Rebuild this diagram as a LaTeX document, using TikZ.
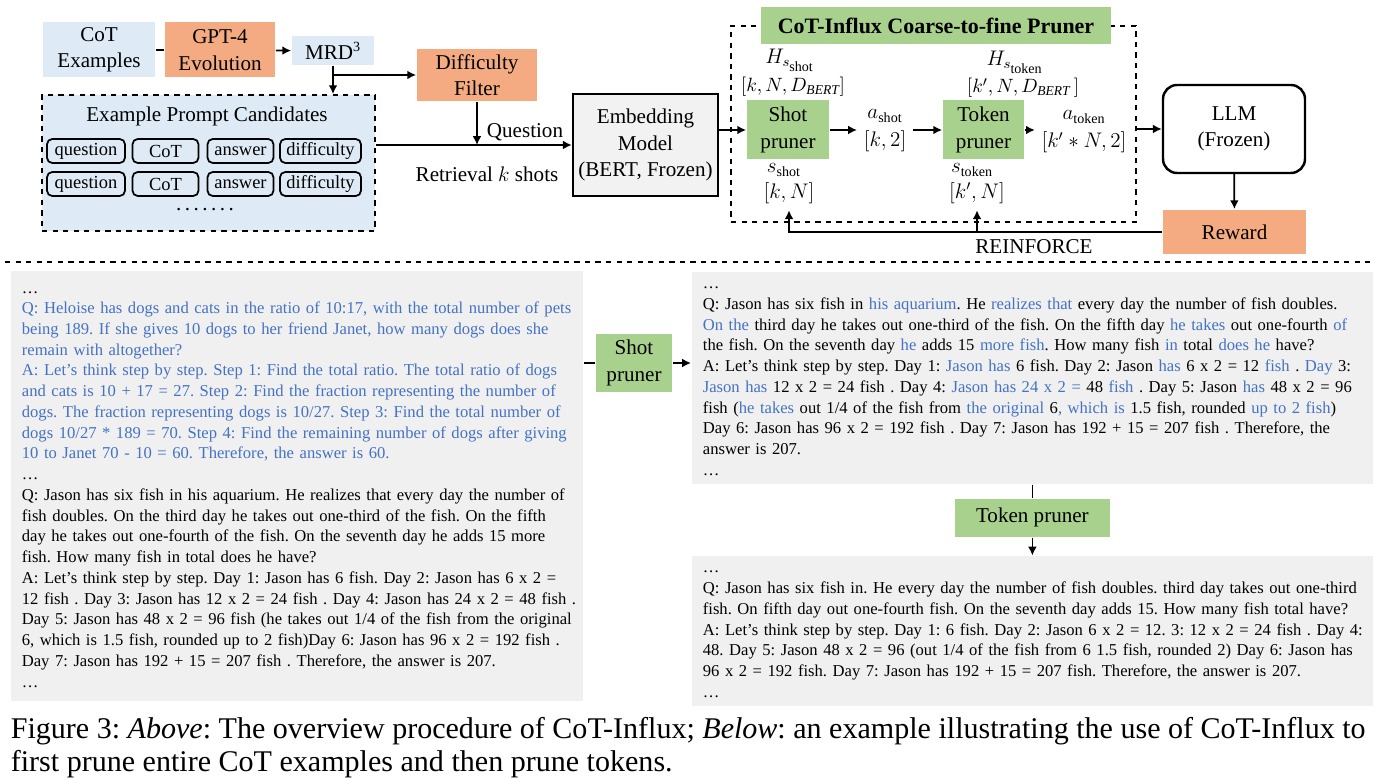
\documentclass[tikz,border=0pt]{standalone}
\usepackage{fontspec}
\setmainfont{Liberation Serif}
\usetikzlibrary{positioning,arrows.meta}
\definecolor{cotblue}{RGB}{222,235,247}
\definecolor{gptorange}{RGB}{244,171,130}
\definecolor{prunegreen}{RGB}{169,209,142}
\definecolor{boxgray}{RGB}{240,240,240}
\definecolor{embgray}{RGB}{242,242,242}
\definecolor{keepblue}{RGB}{68,114,196}
\newcommand{\kb}[1]{\textcolor{keepblue}{#1}}
\frenchspacing
\begin{document}
\begin{tikzpicture}[x=0.2mm,y=-0.2mm,>={Latex[length=5pt,width=5pt]},line width=1pt,
	font=\fontsize{12}{15}\selectfont,
	flat/.style={inner sep=0pt,align=center},
	bluebox/.style={flat,fill=cotblue},
	orangebox/.style={flat,fill=gptorange},
	greenbox/.style={flat,fill=prunegreen},
	field/.style={draw,rounded corners=3pt,minimum height=0.48cm,inner sep=0pt,font=\fontsize{10.5}{12}\selectfont},
	textbox/.style={fill=boxgray,anchor=north west,inner xsep=0.22cm,inner ysep=0.04cm,font=\fontsize{9.45}{11.8}\selectfont}]
		\useasboundingbox (0,0) rectangle (1386,778);
		\node[bluebox,minimum width=2.24cm,minimum height=1.1cm] (cot) at (99,50) {CoT\\Examples};
		\node[orangebox,minimum width=2.2cm,minimum height=1.1cm] (gpt) at (220,50) {GPT-4\\Evolution};
		\node[bluebox,minimum width=1.64cm,minimum height=0.58cm] (mrd) at (333,51) {MRD\textsuperscript{3}};
		\node[orangebox,minimum width=2.4cm,minimum height=1.04cm] (filter) at (477,75) {Difficulty\\Filter};
		\node[draw,dashed,fill=cotblue,minimum width=6.66cm,minimum height=2.72cm] (cand) at (208.5,163) {};
		\node (candtitle) at (207,116) {Example Prompt Candidates};
		\foreach \y [count=\r] in {151,184}
			\foreach \f/\x/\w in {question/86/1.56,CoT/165.5/1.32,answer/240.5/1.32,difficulty/320.5/1.62}
				\node[field,minimum width=\w cm] (\f\r) at (\x,\y) {\f};
		\node (canddots) at (205,210) {.\,.\,.\,.\,.\,.\,.};
		\node[draw,line width=1.4pt,fill=embgray,minimum width=2.9cm,minimum height=2.04cm,flat] (emb) at (645.5,145) {Embedding\\Model\\(BERT, Frozen)};
		\draw (cot) -- (gpt);
		\draw[->] (gpt) -- (mrd);
		\draw[->] (mrd) -- (mrd |- cand.north);
		\draw[->] (mrd.south |- filter) -- (filter);
		\draw[->] (cand.east |- emb) -- (emb);
		\draw[->] (filter) -- (filter |- emb);
		\node (question) at (525,132) {Question};
		\node (retrieval) at (487,174) {Retrieval $k$ shots};
		\node[draw,dashed,minimum width=8.1cm,minimum height=3.92cm] (pruner) at (933.5,124) {};
		\node[greenbox,minimum width=7cm,minimum height=0.74cm,font=\fontsize{12.5}{15}\selectfont\bfseries] (header) at (936,25.5) {CoT-Influx Coarse-to-fine Pruner};
		\node[greenbox,minimum width=1.64cm,minimum height=1.18cm] (shot) at (788,130) {Shot\\pruner};
		\node[greenbox,minimum width=1.62cm,minimum height=1.18cm] (token) at (983.5,130) {Token\\pruner};
		\node (hshot) at (790,60) {$H_{s_{\scriptstyle\mathrm{shot}}}$};
		\node[font=\fontsize{11}{13}\selectfont] (hshotdim) at (793,87) {$[k,N,D_{\mathit{BERT}}]$};
		\node (sshot) at (784,170) {$s_{\mathrm{shot}}$};
		\node (sshotdim) at (789,193) {$[k,N]$};
		\node[align=center] (ashot) at (885,131) {$a_\mathrm{shot}$\\[1pt]$[k,2]$};
		\node (htoken) at (1015,62) {$H_{s_{\scriptstyle\mathrm{token}}}$};
		\node[font=\fontsize{11}{13}\selectfont] (htokendim) at (1023,88) {$[k',N,D_{\mathit{BERT}}\,]$};
		\node (stoken) at (972,170) {$s_\mathrm{token}$};
		\node (stokendim) at (977,193) {$[k',N]$};
		\node[align=center] (atoken) at (1084,132) {$a_\mathrm{token}$\\[1pt]$[k'*N,2]$};
		\node[draw,line width=1.4pt,rounded corners=8pt,fill=white,minimum width=2.84cm,minimum height=1.76cm,flat] (llm) at (1234,129) {LLM\\(Frozen)};
		\node[orangebox,minimum width=2.86cm,minimum height=0.88cm] (reward) at (1234.5,232) {Reward};
		\draw[->] (emb.east |- shot) -- (shot);
		\draw[->] (shot) -- (shot -| ashot.west);
		\draw[->] (ashot.east |- token) -- (token);
		\draw[->] (token) -- (token -| atoken.west);
		\draw[->] (pruner.east |- llm) -- (llm);
		\draw[->] (llm) -- (reward);
		\draw[->] (reward) -- (reward -| sshotdim) -- (sshotdim);
		\draw[->] (reward -| stokendim) -- (stokendim);
		\node (reinforce) at (1034,247) {REINFORCE};
		\draw[dashed] (5,262) -- (1372,262);
		\node[textbox,text width=11cm,minimum height=8.6cm] (fullex) at (10,270) {\noindent\begin{tabular}{@{}l@{}}
			…\\
			\kb{Q: Heloise has dogs and cats in the ratio of 10:17, with the total number of pets}\\
			\kb{being 189. If she gives 10 dogs to her friend Janet, how many dogs does she}\\
			\kb{remain with altogether?}\\
			\kb{A: Let’s think step by step. Step 1: Find the total ratio. The total ratio of dogs}\\
			\kb{and cats is 10 + 17 = 27. Step 2: Find the fraction representing the number of}\\
			\kb{dogs. The fraction representing dogs is 10/27. Step 3: Find the total number of}\\
			\kb{dogs 10/27 * 189 = 70. Step 4: Find the remaining number of dogs after giving}\\
			\kb{10 to Janet 70 - 10 = 60. Therefore, the answer is 60.}\\
			…\\
			Q: Jason has six fish in his aquarium. He realizes that every day the number of\\
			fish doubles. On the third day he takes out one-third of the fish. On the fifth\\
			day he takes out one-fourth of the fish. On the seventh day he adds 15 more\\
			fish. How many fish in total does he have?\\
			A: Let’s think step by step. Day 1: Jason has 6 fish. Day 2: Jason has 6 x 2 =\\
			12 fish . Day 3: Jason has 12 x 2 = 24 fish . Day 4: Jason has 24 x 2 = 48 fish .\\
			Day 5: Jason has 48 x 2 = 96 fish (he takes out 1/4 of the fish from the original\\
			6, which is 1.5 fish, rounded up to 2 fish)Day 6: Jason has 96 x 2 = 192 fish .\\
			Day 7: Jason has 192 + 15 = 207 fish . Therefore, the answer is 207.\\
			…
		\end{tabular}};
		\node[greenbox,minimum width=1.52cm,minimum height=1.16cm] (shotp) at (634,363) {Shot\\pruner};
		\node[textbox,text width=13.18cm,minimum height=4.24cm] (shotex) at (691,271) {\noindent\begin{tabular}{@{}l@{}}
			…\\
			Q: Jason has six fish in \kb{his aquarium}. He \kb{realizes that} every day the number of fish doubles.\\
			\kb{On the} third day he takes out one-third of the fish. On the fifth day \kb{he takes} out one-fourth \kb{of}\\
			the fish. On the seventh day \kb{he} adds 15 \kb{more fish}. How many fish \kb{in} total \kb{does he} have?\\
			A: Let’s think step by step. Day 1: \kb{Jason has} 6 fish. Day 2: Jason \kb{has} 6 x 2 = 12 \kb{fish} . \kb{Day} 3:\\
			\kb{Jason has} 12 x 2 = 24 fish . Day 4: \kb{Jason has 24 x 2 =} 48 \kb{fish} . Day 5: Jason \kb{has} 48 x 2 = 96\\
			fish (\kb{he takes} out 1/4 of the fish from \kb{the original} 6\kb{, which is} 1.5 fish, rounded \kb{up to 2 fish})\\
			Day 6: Jason has 96 x 2 = 192 fish . Day 7: Jason has 192 + 15 = 207 fish . Therefore, the\\
			answer is 207.\\
			…
		\end{tabular}};
		\node[greenbox,minimum width=3.1cm,minimum height=0.76cm,below=0.26cm of shotex] (tokenp) {Token pruner};
		\node[textbox,text width=13.18cm,minimum height=2.96cm,below=0.36cm of tokenp] (tokenex) {\noindent\begin{tabular}{@{}l@{}}
			…\\
			Q: Jason has six fish in. He every day the number of fish doubles. third day takes out one-third\\
			fish. On fifth day out one-fourth fish. On the seventh day adds 15. How many fish total have?\\
			A: Let’s think step by step. Day 1: 6 fish. Day 2: Jason 6 x 2 = 12. 3: 12 x 2 = 24 fish . Day 4:\\
			48. Day 5: Jason 48 x 2 = 96 (out 1/4 of the fish from 6 1.5 fish, rounded 2) Day 6: Jason has\\
			96 x 2 = 192 fish. Day 7: Jason has 192 + 15 = 207 fish. Therefore, the answer is 207.\\
			…
		\end{tabular}};
		\draw (fullex.east |- shotp) -- (shotp);
		\draw[->] (shotp) -- (shotp -| shotex.west);
		\draw (shotex) -- (tokenp);
		\draw[->] (tokenp) -- (tokenex);
		\node[anchor=north west,align=left,inner sep=0pt,font=\fontsize{17.1}{18.8}\selectfont] (caption) at (10,716) {Figure 3: \textit{Above}: The overview procedure of CoT-Influx; \textit{Below}: an example illustrating the use of CoT-Influx to\\first prune entire CoT examples and then prune tokens.};
	\end{tikzpicture}
\end{document}
